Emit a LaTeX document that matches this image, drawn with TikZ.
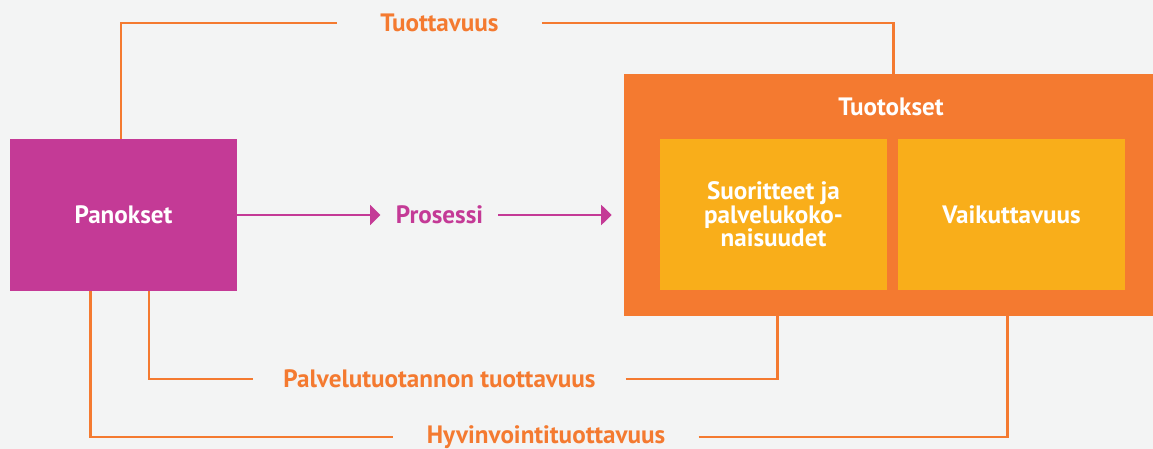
\documentclass[tikz,border=0pt]{standalone}
\usepackage{fontspec}
\setmainfont{PT Sans}
\usetikzlibrary{arrows.meta,positioning}
\definecolor{bgray}{HTML}{F3F4F4}
\definecolor{magen}{HTML}{C43A96}
\definecolor{orng}{HTML}{F47A30}
\definecolor{yell}{HTML}{F9AE1A}
\tikzset{
  x=0.02cm, y=-0.02cm,
  every node/.style={font=\bfseries\fontsize{14.3}{13.4}\selectfont},
  box/.style={minimum width=4.54cm, minimum height=3.04cm, inner sep=0pt, text=white, align=center},
  lbl/.style={text=orng, inner ysep=0pt},
  link/.style={draw=orng, line width=1.7pt},
  flow/.style={draw=magen, line width=1.2pt, -{Triangle[length=0.21cm,width=0.4cm]}}
  }
\begin{document}
\begin{tikzpicture}

    \fill[bgray] (0,0) rectangle (1153,449);
    \useasboundingbox (0,0) rectangle (1153,449);

    \node [box, fill=magen] at (123.5,215) (pan) {Panokset};
    \node [fill=orng, minimum width=10.58cm, minimum height=4.84cm, inner sep=0pt] at (888.5,195) (tuot) {};
    \node [text=white, inner sep=0pt] at (891,107) (tuottitle) {Tuotokset};
    \node [box, fill=yell, minimum height=3.02cm] at (773.5,214.5) (suor) {Suoritteet ja\\palvelukoko-\\naisuudet};
    \node [box, fill=yell, minimum height=3.02cm] at (1011.5,214.5) (vaik) {Vaikuttavuus};

    \node [lbl, inner xsep=0.86cm] at (439.5,23) (tuottavuus) {Tuottavuus};
    \node [text=magen, inner xsep=0.3cm] at (439.5,215) (pros) {Prosessi};
    \node [lbl, inner xsep=0.6cm] at (439.5,379) (palv) {Palvelutuotannon tuottavuus};
    \node [lbl, inner xsep=0.66cm] at (546,437) (hyvi) {Hyvinvointituottavuus};

    \draw [link] ([xshift=-0.05cm]pan.north) |- (tuottavuus.west);
    \draw [link] (tuottavuus.east) -| ([xshift=0.09cm]tuot.north);
    \draw [flow] (pan.east) -- (pros.west);
    \draw [flow] (pros.east) -- ([xshift=-0.24cm]pros.east -| tuot.west);
    \draw [link] ([xshift=0.51cm]pan.south) |- (palv.west);
    \draw [link] (palv.east) -| ([xshift=-2.23cm]tuot.south);
    \draw [link] ([xshift=-0.67cm]pan.south) |- (hyvi.west);
    \draw [link] (hyvi.east) -| ([xshift=2.39cm]tuot.south);

\end{tikzpicture}
\end{document}
